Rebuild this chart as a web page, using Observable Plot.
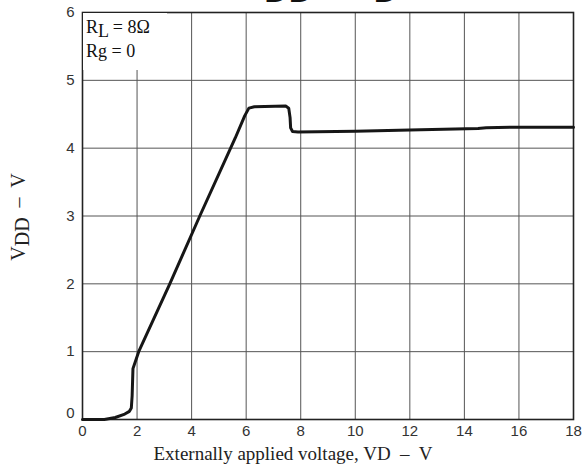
<!DOCTYPE html>
<html>
<head>
<meta charset="utf-8">
<script src="https://cdn.jsdelivr.net/npm/d3@7"></script>
<script src="https://cdn.jsdelivr.net/npm/@observablehq/plot@0.6"></script>
<style>
  html, body { margin: 0; padding: 0; background: #fff; overflow: hidden; }
  #wrap { position: relative; width: 584px; height: 470px; }
  #title { position: absolute; left: 241px; top: -31px; font: 34px "Liberation Sans", Arial, sans-serif; line-height: 34px; white-space: pre; color: #111; }
  #title .sub { position: relative; top: 4px; }
  #note { position: absolute; left: 83px; top: 13px; width: 84px; height: 57px; background: #fff; font: 18px "Liberation Serif", "Times New Roman", serif; line-height: 24px; color: #111; padding: 2px 0 0 3px; box-sizing: border-box; white-space: pre; }
  #note .sub { position: relative; top: 4px; }
</style>
</head>
<body>
<div id="wrap">
  <div id="chart"></div>
  <div id="title">V<span class="sub">DD</span> – V<span class="sub">D</span></div>
  <div id="note">R<span class="sub">L</span> = 8Ω<br>Rg = 0</div>
</div>
<script>
// Externally applied voltage VD (V)
const vd = [0, 0.8, 1.2, 1.55, 1.72, 1.79, 1.82, 1.85, 2.06, 3.2, 4.3, 5.6, 5.95, 6.1, 6.3, 7.45, 7.56, 7.61, 7.63, 7.7, 7.9, 10, 12.4, 14.5, 14.8, 16, 18];
// Resulting VDD (V)
const vdd = [0, 0, 0.03, 0.08, 0.12, 0.17, 0.35, 0.75, 1.0, 2.0, 3.0, 4.15, 4.48, 4.59, 4.61, 4.62, 4.59, 4.45, 4.3, 4.245, 4.24, 4.25, 4.27, 4.29, 4.3, 4.31, 4.31];
const xTicks = [0, 2, 4, 6, 8, 10, 12, 14, 16, 18];
const yTicks = [1, 2, 3, 4, 5, 6];
const yZeroTick = [0];
const xLabel = "Externally applied voltage, VD  –  V";

const data = vd.map((x, i) => ({x, y: vdd[i]}));
const fmt = d => String(d);

const plot = Plot.plot({
  width: 584,
  height: 470,
  marginLeft: 82,
  marginRight: 11,
  marginTop: 12,
  marginBottom: 51,
  style: {background: "#fff", fontFamily: "'Liberation Sans', Arial, sans-serif", fontSize: "15px", color: "#333"},
  x: {domain: [0, 18]},
  y: {domain: [0, 6]},
  marks: [
    Plot.gridX(xTicks, {stroke: "#555", strokeOpacity: 1, strokeWidth: 1}),
    Plot.gridY([0, ...yTicks], {stroke: "#555", strokeOpacity: 1, strokeWidth: 1}),
    Plot.frame({stroke: "#222", strokeWidth: 1.6}),
    Plot.axisX(xTicks, {tickSize: 0, tickPadding: 6, label: null, fontSize: 15, tickFormat: fmt}),
    Plot.axisY(yTicks, {tickSize: 0, tickPadding: 8, label: null, fontSize: 15, tickFormat: fmt}),
    Plot.axisY(yZeroTick, {tickSize: 0, tickPadding: 8, label: null, fontSize: 15, tickFormat: fmt, dy: -6}),
    Plot.line(data, {x: "x", y: "y", stroke: "#161616", strokeWidth: 3, strokeLinejoin: "round", strokeLinecap: "round"})
  ]
});
document.getElementById("chart").appendChild(plot);

const svg = d3.select(plot);
svg.append("text")
  .attr("x", 293)
  .attr("y", 460)
  .attr("text-anchor", "middle")
  .attr("xml:space", "preserve")
  .style("white-space", "pre")
  .style("font-family", "'Liberation Serif', 'Times New Roman', serif")
  .style("font-size", "19px")
  .attr("fill", "#222")
  .text(xLabel);

const yl = svg.append("text")
  .attr("transform", "translate(25,217) rotate(-90)")
  .attr("text-anchor", "middle")
  .style("white-space", "pre")
  .style("font-family", "'Liberation Serif', 'Times New Roman', serif")
  .style("font-size", "20px")
  .attr("fill", "#222");
yl.append("tspan").text("V");
yl.append("tspan").attr("dy", 4).text("DD");
yl.append("tspan").attr("dy", -4).text("  –  V");
</script>
</body>
</html>
